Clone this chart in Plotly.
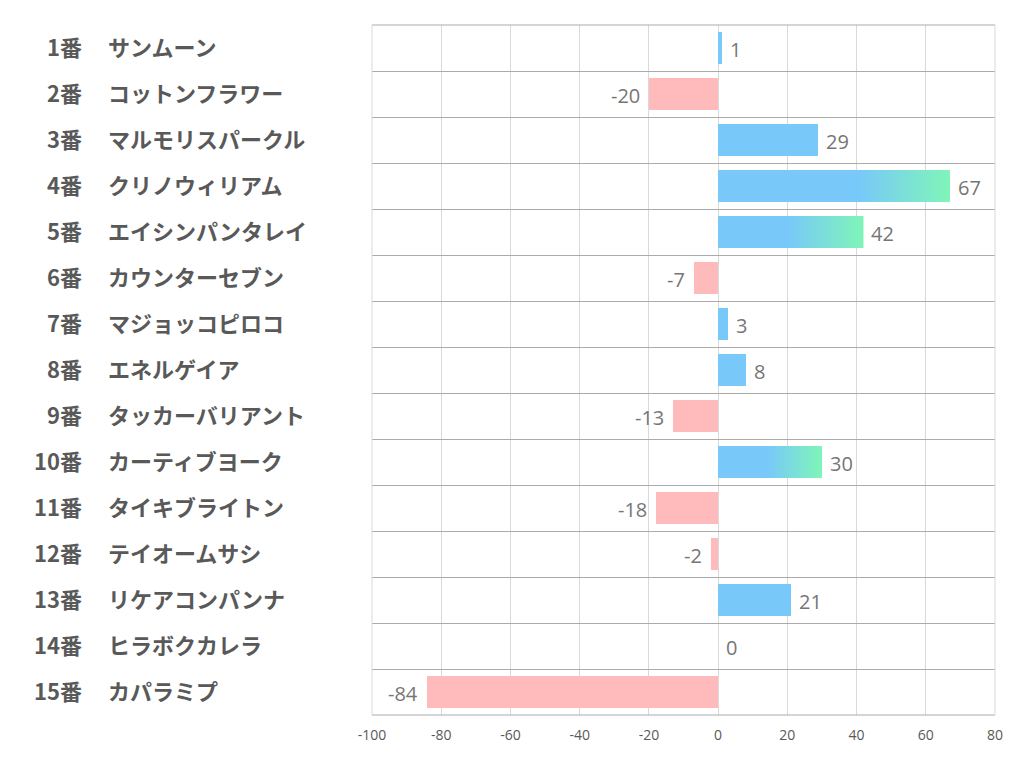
import plotly.graph_objects as go

numbers = ["1番", "2番", "3番", "4番", "5番", "6番", "7番", "8番", "9番", "10番",
           "11番", "12番", "13番", "14番", "15番"]
names = ["サンムーン", "コットンフラワー", "マルモリスパークル", "クリノウィリアム", "エイシンパンタレイ",
         "カウンターセブン", "マジョッコピロコ", "エネルゲイア", "タッカーバリアント", "カーティブヨーク",
         "タイキブライトン", "テイオームサシ", "リケアコンパンナ", "ヒラボクカレラ", "カパラミプ"]
values = [1, -20, 29, 67, 42, -7, 3, 8, -13, 30, -18, -2, 21, 0, -84]
x_ticks = [-100, -80, -60, -40, -20, 0, 20, 40, 60, 80]
gradient_threshold = 30  # bars at or above this value fade to green

BLUE = "#78C8FA"
GREEN = "#7FF5B8"
PINK = "#FFBBBB"
BAR_W = 0.7
OFF = 8  # default body margin of the page
L, R, T, B = 372, 27, 25, 67

ys = list(range(len(values)))
fig = go.Figure()

colors = [BLUE if v >= 0 else PINK for v in values]
fig.add_trace(go.Bar(x=values, y=ys, orientation="h", width=BAR_W,
                     marker=dict(color=colors, line=dict(width=0)),
                     hoverinfo="skip", showlegend=False))

# gradient overlays
for i, v in enumerate(values):
    if v >= gradient_threshold:
        start = 0.47 if v < 60 else 0.6
        h = BAR_W / 2
        fig.add_trace(go.Scatter(
            x=[0, v, v, 0, 0], y=[i - h, i - h, i + h, i + h, i - h],
            mode="lines", fill="toself", line=dict(width=0),
            fillgradient=dict(type="horizontal",
                              colorscale=[[0, BLUE], [start, BLUE], [1, GREEN]]),
            hoverinfo="skip", showlegend=False))

annotations = []
for i, v in enumerate(values):
    annotations.append(dict(
        x=v, y=i, xref="x", yref="y", text=str(v), showarrow=False,
        xanchor="left" if v >= 0 else "right", xshift=6 if v >= 0 else -7,
        yshift=-1,
        font=dict(size=20, color="#767676", family="Open Sans, DejaVu Sans")))
    annotations.append(dict(
        x=0, y=i, xref="paper", yref="y", text="<b>" + numbers[i] + "</b>",
        showarrow=False, xanchor="right", xshift=84 - L, yshift=2,
        font=dict(size=22, color="#595959", family="Noto Sans CJK JP")))
    annotations.append(dict(
        x=0, y=i, xref="paper", yref="y", text="<b>" + names[i] + "</b>",
        showarrow=False, xanchor="left", xshift=106 - L, yshift=2,
        font=dict(size=22, color="#595959", family="Noto Sans CJK JP")))

shapes = [
    dict(type="line", xref="paper", yref="paper", x0=0, x1=1, y0=1, y1=1,
         line=dict(color="#ABABAB", width=1)),
    dict(type="line", xref="paper", yref="paper", x0=0, x1=1, y0=0, y1=0,
         line=dict(color="#ABABAB", width=1)),
    dict(type="line", xref="paper", yref="paper", x0=0, x1=0, y0=0, y1=1,
         line=dict(color="#D9D9D9", width=1)),
    dict(type="line", xref="paper", yref="paper", x0=1, x1=1, y0=0, y1=1,
         line=dict(color="#D9D9D9", width=1)),
]

fig.update_layout(
    width=1022 - OFF, height=782 - OFF,
    margin=dict(l=L - OFF, r=R, t=T - OFF, b=B),
    plot_bgcolor="white", paper_bgcolor="white",
    annotations=annotations, shapes=shapes,
    bargap=0,
)
fig.update_xaxes(range=[-100, 80], tickmode="array", tickvals=x_ticks,
                 ticktext=[str(t) for t in x_ticks], showgrid=True,
                 gridcolor="#D9D9D9", gridwidth=1, zeroline=False,
                 showline=False, ticks="", ticklabelstandoff=10,
                 tickfont=dict(size=14, color="#595959", family="Open Sans"))
fig.update_yaxes(range=[14.5, -0.5], tickmode="array",
                 tickvals=[k - 0.5 for k in range(len(values) + 1)],
                 showticklabels=False, showgrid=True, gridcolor="#ABABAB",
                 gridwidth=1, zeroline=False, showline=False, ticks="")

fig.write_html("out.html")
